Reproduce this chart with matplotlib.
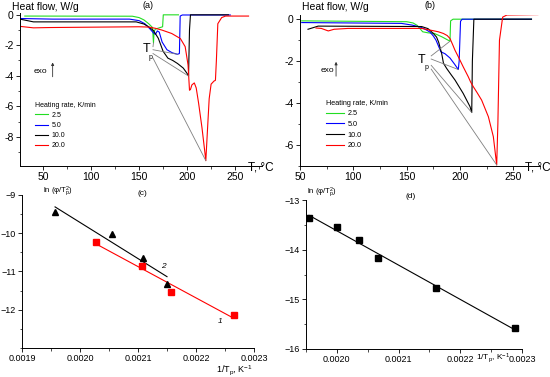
import numpy as np
import matplotlib
matplotlib.use("Agg")
import matplotlib.pyplot as plt
from matplotlib.ticker import MultipleLocator, FormatStrFormatter

plt.rcParams['font.family'] = ['Liberation Sans', 'DejaVu Sans']
plt.rcParams['axes.unicode_minus'] = False
plt.rcParams['mathtext.default'] = 'regular'

# ---------------- data: panel (a) DSC curves ----------------
rates = ["2.5", "5.0", "10.0", "20.0"]
colors = ["#22dd22", "#0000ff", "#000000", "#ff0000"]

a_T_25 = [31, 143, 150, 155, 160, 164, 165, 165.6, 167, 172, 174.5, 175.2, 191]
a_HF_25 = [-0.1, -0.11, -0.2, -0.35, -0.6, -0.85, -1.85, -1.1, -0.95, -0.85, -0.8, -0.02, -0.02]
a_T_50 = [26, 60, 140, 150, 156, 160, 165, 167, 169, 171, 174, 179, 184.5, 190, 192, 192.8, 195, 245]
a_HF_50 = [-0.26, -0.3, -0.3, -0.4, -0.6, -0.85, -1.2, -1.3, -1.07, -1.15, -1.8, -2.3, -2.5, -2.6, -2.55, -0.1, -0.03, -0.03]
a_T_100 = [26, 40, 147, 155, 160, 165, 170, 175, 180, 185, 190, 196, 200, 201.5, 202.5, 203.5, 243]
a_HF_100 = [-0.3, -0.48, -0.48, -0.62, -0.8, -1.05, -1.55, -2.4, -2.85, -3.0, -3.2, -3.5, -3.85, -4.02, -1.0, -0.02, -0.02]
a_T_200 = [24, 40, 57, 150, 160, 167, 174, 184, 193, 198, 201, 202.5, 203.5, 205, 207.5, 209.5, 212,
           215.5, 218.5, 219.5, 221, 223, 225, 228, 229.5, 230.5, 232, 236, 240, 264]
a_HF_200 = [-0.76, -0.87, -0.85, -0.8, -0.82, -0.9, -1.02, -1.24, -1.57, -2.1, -3.3, -4.95, -4.9, -4.6, -4.47, -4.8, -5.8,
            -7.4, -9.0, -9.55, -7.8, -5.5, -4.55, -4.35, -4.3, -3.0, -0.6, -0.2, -0.1, -0.1]

# ---------------- data: panel (b) DSC curves ----------------
b_T_25 = [51.6, 150, 156, 160, 163, 165, 170, 176, 183, 190.6, 191.2, 193.5, 267]
b_HF_25 = [-0.08, -0.12, -0.18, -0.3, -0.48, -0.6, -0.65, -0.68, -0.84, -1.05, -0.08, 0.0, 0.0]
b_T_50 = [51.6, 145, 155, 163, 168, 172, 175, 177.5, 180, 182, 186, 190.6, 195, 198.4, 199.2, 200.5, 202, 267]
b_HF_50 = [-0.16, -0.2, -0.28, -0.38, -0.5, -0.62, -0.8, -1.0, -1.3, -1.55, -1.65, -1.85, -2.15, -2.4, -2.0, -0.1, 0.0, 0.0]
b_T_100 = [57.5, 67, 164, 170, 175, 178, 180, 182.8, 184.5, 187.5, 192, 195.3, 203, 209.4, 211, 211.6, 213, 267]
b_HF_100 = [-0.48, -0.33, -0.35, -0.45, -0.68, -0.85, -1.1, -1.63, -2.1, -2.35, -2.67, -2.9, -3.54, -4.17, -4.45, -2.0, 0.0, 0.0]
b_T_200 = [65, 70, 76.5, 82, 95, 164, 170, 175, 179.7, 184.4, 188, 190.6, 193, 195.3, 198.4, 203, 207.8, 210,
           212.5, 216, 220.3, 226.6, 231.25, 234.4, 235.5, 237, 240, 244, 273]
b_HF_200 = [-0.42, -0.44, -0.56, -0.48, -0.44, -0.44, -0.5, -0.55, -0.6, -0.68, -0.78, -0.92, -1.2, -1.48, -1.79, -2.27, -2.75, -3.0,
            -3.22, -3.5, -3.86, -4.65, -5.6, -6.95, -5.0, -1.0, 0.1, 0.2, 0.22]

# Tp annotation line start points
tp_a_T = 164.5
tp_a_HF = [-2.1, -2.3, -2.55, -2.85]
tp_b_T = 173.0
tp_b_HF = [-1.75, -1.9, -2.2, -2.38]

# ---------------- data: panel (c) ----------------
c_x2 = [0.001957, 0.002056, 0.002109, 0.00215]
c_y2 = [-9.44, -10.02, -10.66, -11.32]
c_x1 = [0.002028, 0.002107, 0.002157, 0.002265]
c_y1 = [-10.24, -10.86, -11.53, -12.14]

# ---------------- data: panel (d) ----------------
d_x = [0.001955, 0.002001, 0.002036, 0.002067, 0.002161, 0.002288]
d_y = [-13.36, -13.54, -13.80, -14.17, -14.78, -15.58]

W, H = 550, 377
fig = plt.figure(figsize=(W / 100, H / 100), dpi=100)


def fx(px):
    return px / W


def fy(py):
    return 1 - py / H


def style(ax, fs=7.5):
    ax.spines['top'].set_visible(False)
    ax.spines['right'].set_visible(False)
    for s in ('left', 'bottom'):
        ax.spines[s].set_linewidth(0.7)
    ax.tick_params(which='major', length=3, width=0.6, labelsize=fs, pad=1.5)
    ax.tick_params(which='minor', length=1.8, width=0.5)
    ax.patch.set_alpha(0)


minus_fmt = plt.FuncFormatter(lambda v, p: "\u2212%d" % abs(v))

# ---- panel (a)
axa = fig.add_axes([fx(20), fy(166), fx(262 - 20), (166 - 13) / H])
a_T = [a_T_25, a_T_50, a_T_100, a_T_200]
a_HF = [a_HF_25, a_HF_50, a_HF_100, a_HF_200]
for T, HF, c, r in zip(a_T, a_HF, colors, rates):
    axa.plot(T, HF, color=c, lw=0.8, label=r)
for T, HF, y0 in zip(a_T, a_HF, tp_a_HF):
    i = int(np.argmin(HF))
    axa.plot([tp_a_T, T[i]], [y0, HF[i]], color='#7f7f7f', lw=0.6)
axa.set_xlim(26, 278)
axa.set_ylim(-9.9, 0.1)
axa.set_xticks([50, 100, 150, 200, 250])
axa.xaxis.set_minor_locator(MultipleLocator(25))
axa.set_yticks([-8, -6, -4, -2, 0])
axa.yaxis.set_minor_locator(MultipleLocator(1))
style(axa)
axa.text(158.0, -2.25, "T", fontsize=9, ha='center', va='center')
axa.text(161.5, -2.8, "p", fontsize=5, ha='center', va='center')
axa.text(47, -3.7, "exo", fontsize=6, ha='center', va='center')
axa.annotate('', xy=(60, -2.95), xytext=(60, -4.25),
             arrowprops=dict(arrowstyle='-|>', lw=0.6, color='#333333', mutation_scale=4))
leg = axa.legend(loc='upper left', bbox_to_anchor=(0.06, 0.42), frameon=False,
                 title="Heating rate, K/min", fontsize=5, title_fontsize=5,
                 handlelength=2.0, handletextpad=0.5, labelspacing=0.45,
                 borderpad=0, borderaxespad=0)
leg._legend_box.align = "left"
fig.text(fx(248), fy(167), "T, °C", fontsize=8.5, va='center', ha='left')
fig.text(fx(12), fy(7), "Heat flow, W/g", fontsize=7.5, va='center', ha='left')
fig.text(fx(148), fy(6), "(a)", fontsize=6.5, va='center', ha='center')

# ---- panel (b)
axb = fig.add_axes([fx(300), fy(166), fx(540 - 300), (166 - 15) / H])
b_T = [b_T_25, b_T_50, b_T_100, b_T_200]
b_HF = [b_HF_25, b_HF_50, b_HF_100, b_HF_200]
for T, HF, c, r in zip(b_T, b_HF, colors, rates):
    axb.plot(T, HF, color=c, lw=0.8, label=r)
for T, HF, y0 in zip(b_T, b_HF, tp_b_HF):
    i = int(np.argmin(HF))
    axb.plot([tp_b_T, T[i]], [y0, HF[i]], color='#7f7f7f', lw=0.6)
axb.set_xlim(50, 275)
axb.set_ylim(-7.0, 0.2)
axb.set_xticks([50, 100, 150, 200, 250])
axb.xaxis.set_minor_locator(MultipleLocator(25))
axb.set_yticks([-6, -4, -2, 0])
axb.yaxis.set_minor_locator(MultipleLocator(1))
style(axb)
axb.text(164, -1.95, "T", fontsize=9, ha='center', va='center')
axb.text(168.8, -2.3, "p", fontsize=5, ha='center', va='center')
axb.text(76, -2.46, "exo", fontsize=6, ha='center', va='center')
axb.annotate('', xy=(83.8, -1.9), xytext=(83.8, -2.85),
             arrowprops=dict(arrowstyle='-|>', lw=0.6, color='#333333', mutation_scale=4))
leg = axb.legend(loc='upper left', bbox_to_anchor=(0.11, 0.44), frameon=False,
                 title="Heating rate, K/min", fontsize=5.2, title_fontsize=5.2,
                 handlelength=2.4, handletextpad=0.5, labelspacing=0.5,
                 borderpad=0, borderaxespad=0)
leg._legend_box.align = "left"
fig.text(fx(525), fy(167), "T, °C", fontsize=8.5, va='center', ha='left')
fig.text(fx(302), fy(7), "Heat flow, W/g", fontsize=7.5, va='center', ha='left')
fig.text(fx(430), fy(5), "(b)", fontsize=6.5, va='center', ha='center')

# ---- panel (c)
axc = fig.add_axes([fx(22), fy(348), fx(254 - 22), (348 - 195) / H])
p2 = np.polyfit(c_x2, c_y2, 1)
p1 = np.polyfit(c_x1, c_y1, 1)
xs2 = np.array([min(c_x2), max(c_x2)])
xs1 = np.array([min(c_x1), max(c_x1)])
axc.plot(xs2, np.polyval(p2, xs2), color='k', lw=0.8)
axc.plot(xs1, np.polyval(p1, xs1), color='#ff0000', lw=0.8)
axc.plot(c_x2, c_y2, '^', color='k', ms=5, mec='k')
axc.plot(c_x1, c_y1, 's', color='#ff0000', ms=4.3, mec='#ff0000')
axc.set_xlim(0.0019, 0.0023)
axc.set_ylim(-13, -9)
axc.set_xticks([0.0019, 0.0020, 0.0021, 0.0022, 0.0023])
axc.xaxis.set_major_formatter(FormatStrFormatter('%.4f'))
axc.xaxis.set_minor_locator(MultipleLocator(0.00005))
axc.set_yticks([-12, -11, -10, -9])
axc.yaxis.set_major_formatter(minus_fmt)
axc.yaxis.set_minor_locator(MultipleLocator(0.5))
style(axc, fs=6.5)
axc.text(0.002143, -10.87, "2", fontsize=6, style='italic', ha='center', va='center')
axc.text(0.002242, -12.3, "1", fontsize=6, style='italic', ha='center', va='center')
fig.text(fx(43), fy(191), "ln (\u03c6/T$_p^2$)", fontsize=5.5, va='center', ha='left')
fig.text(fx(142), fy(193), "(c)", fontsize=6, va='center', ha='center')
fig.text(fx(253), fy(370.5), "1/T$_p$, K$^{-1}$", fontsize=6.5, va='center', ha='right')

# ---- panel (d)
axd = fig.add_axes([fx(306), fy(349), fx(522 - 306), (349 - 200) / H])
pd = np.polyfit(d_x, d_y, 1)
xsd = np.array([min(d_x), max(d_x)])
axd.plot(xsd, np.polyval(pd, xsd), color='k', lw=0.8)
axd.plot(d_x, d_y, 's', color='k', ms=4.5)
axd.set_xlim(0.00195, 0.0023)
axd.set_ylim(-16, -13)
axd.set_xticks([0.0020, 0.0021, 0.0022, 0.0023])
axd.xaxis.set_major_formatter(FormatStrFormatter('%.4f'))
axd.xaxis.set_minor_locator(MultipleLocator(0.00005))
axd.set_yticks([-16, -15, -14, -13])
axd.yaxis.set_major_formatter(minus_fmt)
axd.yaxis.set_minor_locator(MultipleLocator(0.5))
style(axd, fs=6.5)
fig.text(fx(307), fy(192), "ln (\u03c6/T$_p^2$)", fontsize=5.5, va='center', ha='left')
fig.text(fx(411), fy(197), "(d)", fontsize=6, va='center', ha='center')
fig.text(fx(493), fy(358), "1/T$_p$, K$^{-1}$", fontsize=6.0, va='center', ha='center')

fig.savefig("out.png", dpi=100)
